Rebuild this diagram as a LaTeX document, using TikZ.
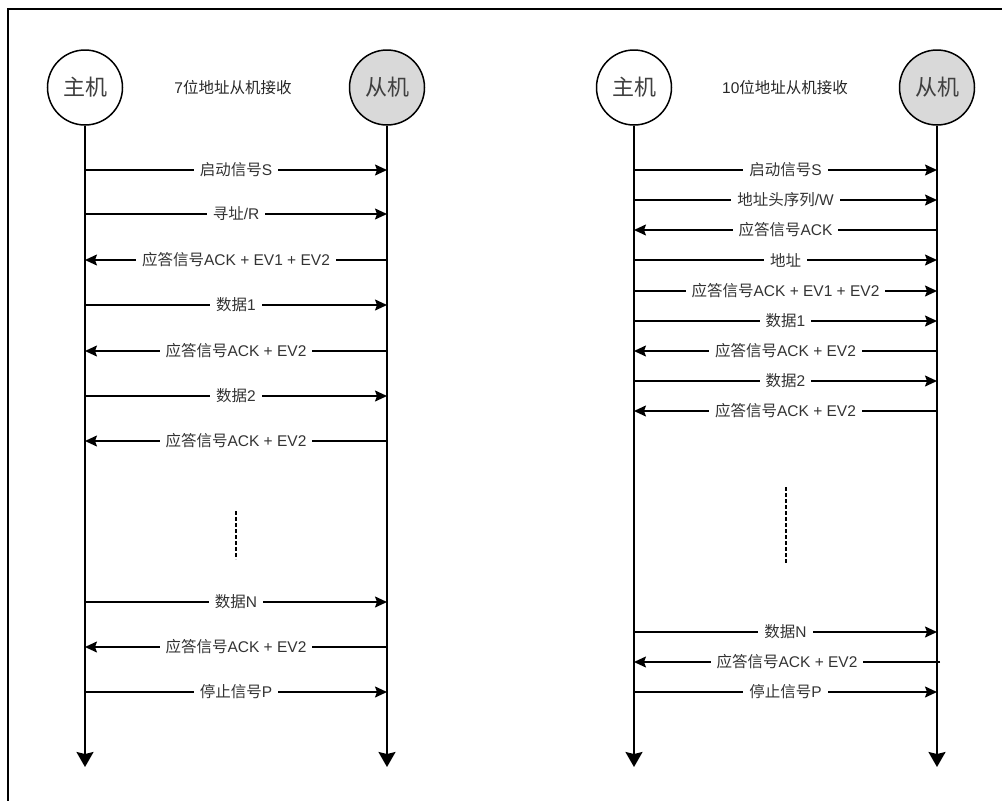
\documentclass[tikz,border=0pt]{standalone}
\usepackage{fontspec}
\setmainfont{Liberation Sans}
\newfontfamily\cjk{Noto Sans CJK SC}
\usetikzlibrary{arrows.meta}
\newcommand{\zhtxt}[1]{{\cjk #1}}
\tikzset{
  actor/.style={circle, draw, line width=1.5pt, minimum size=75pt, inner sep=0pt,
    font=\cjk\fontsize{22}{24}\selectfont, text=black!75},
  master/.style={actor, fill=white},
  slave/.style={actor, fill=black!15},
  life/.style={line width=1.8pt, -{Stealth[length=15pt,width=17pt,inset=2pt]}},
  msgline/.style={line width=1.5pt, -{Stealth[length=12pt,width=11pt,inset=2pt]}},
  lbl/.style={fill=white, inner xsep=6pt, inner ysep=1pt,
    font=\fontsize{15.5}{17}\selectfont, text=black!80},
  titletext/.style={font=\fontsize{15.5}{17}\selectfont, text=black!85},
  dots/.style={line width=1.6pt, dash pattern=on 4pt off 2pt},
  framel/.style={line width=1.8pt}
}
% #1 name, #2 y, #3 left x, #4 right x, #5 label
\newcommand{\msgR}[5]{%
  \coordinate (#1a) at (#3,#2); \coordinate (#1b) at (#4,#2);
  \draw[msgline] (#1a) -- node[lbl]{#5} (#1b);}
\newcommand{\msgL}[5]{%
  \coordinate (#1a) at (#3,#2); \coordinate (#1b) at (#4,#2);
  \draw[msgline] (#1b) -- node[lbl]{#5} (#1a);}
\begin{document}
\begin{tikzpicture}[x=1pt,y=-1pt]
\useasboundingbox (0,0) rectangle (1002,801);
% frame
\coordinate (fa) at (8,801); \coordinate (fb) at (8,9); \coordinate (fc) at (1002,9);
\draw[framel] (fa) -- (fb) -- (fc);

% ---------- left diagram ----------
\node[master] (m1) at (85,87.5) {主机};
\node[slave] (s1) at (387,87.5) {从机};
\node[titletext] (t1) at (233,87.5) {7\zhtxt{位地址从机接收}};
\coordinate (m1end) at (85,767); \coordinate (s1end) at (387,767);
\draw[life] (m1.south) -- (m1end);
\draw[life] (s1.south) -- (s1end);

\msgR{la}{170}{85}{387}{\zhtxt{启动信号}S}
\msgR{lb}{214}{85}{387}{\zhtxt{寻址}/R}
\msgL{lc}{260}{85}{387}{\zhtxt{应答信号}ACK + EV1 + EV2}
\msgR{ld}{305}{85}{387}{\zhtxt{数据}1}
\msgL{le}{351}{85}{387}{\zhtxt{应答信号}ACK + EV2}
\msgR{lf}{396}{85}{387}{\zhtxt{数据}2}
\msgL{lg}{441}{85}{387}{\zhtxt{应答信号}ACK + EV2}
\msgR{lh}{602}{85}{387}{\zhtxt{数据}N}
\msgL{li}{647}{85}{387}{\zhtxt{应答信号}ACK + EV2}
\msgR{lj}{692}{85}{387}{\zhtxt{停止信号}P}

\coordinate (d1a) at (236,511); \coordinate (d1b) at (236,559);
\draw[dots] (d1a) -- (d1b);

% ---------- right diagram ----------
\node[master] (m2) at (634,87.5) {主机};
\node[slave] (s2) at (937,87.5) {从机};
\node[titletext] (t2) at (785,87.5) {10\zhtxt{位地址从机接收}};
\coordinate (m2end) at (634,767); \coordinate (s2end) at (937,767);
\draw[life] (m2.south) -- (m2end);
\draw[life] (s2.south) -- (s2end);

\msgR{ra}{170}{634}{937}{\zhtxt{启动信号}S}
\msgR{rb}{200}{634}{937}{\zhtxt{地址头序列}/W}
\msgL{rc}{230}{634}{937}{\zhtxt{应答信号}ACK}
\msgR{rd}{260}{634}{937}{\zhtxt{地址}}
\msgR{re}{291}{634}{937}{\zhtxt{应答信号}ACK + EV1 + EV2}
\msgR{rf}{321}{634}{937}{\zhtxt{数据}1}
\msgL{rg}{351}{634}{937}{\zhtxt{应答信号}ACK + EV2}
\msgR{rh}{381}{634}{937}{\zhtxt{数据}2}
\msgL{ri}{411}{634}{937}{\zhtxt{应答信号}ACK + EV2}
\msgR{rj}{632}{634}{937}{\zhtxt{数据}N}
\msgL{rk}{662}{634}{940}{\zhtxt{应答信号}ACK + EV2}
\msgR{rl}{692}{634}{937}{\zhtxt{停止信号}P}

\coordinate (d2a) at (786,487); \coordinate (d2b) at (786,563);
\draw[dots] (d2a) -- (d2b);
\end{tikzpicture}
\end{document}
